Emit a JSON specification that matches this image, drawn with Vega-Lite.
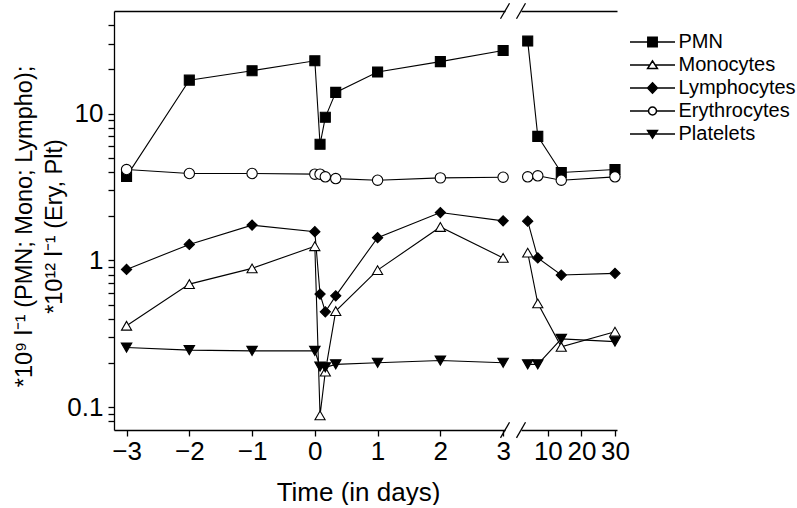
{
  "$schema": "https://vega.github.io/schema/vega-lite/v6.json",
  "background": "white",
  "padding": {"left": 12, "top": 2, "right": 0, "bottom": 0},
  "bounds": "flush",
  "config": {
    "view": {"stroke": null},
    "font": "Liberation Sans",
    "axis": {
      "domainColor": "black", "tickColor": "black", "labelColor": "black", "titleColor": "black",
      "domainWidth": 1.3, "tickWidth": 1.3, "tickSize": 6,
      "labelFontSize": 26, "titleFontSize": 26, "titleFontWeight": "normal",
      "labelFont": "Liberation Sans", "titleFont": "Liberation Sans", "grid": false
    },
    "concat": {"spacing": 16}
  },
  "datasets": {
    "early": [
      {"day": -3, "series": "PMN", "value": 3.74},
      {"day": -2, "series": "PMN", "value": 16.9},
      {"day": -1, "series": "PMN", "value": 19.6},
      {"day": 0, "series": "PMN", "value": 22.9},
      {"day": 0.083, "series": "PMN", "value": 6.18},
      {"day": 0.167, "series": "PMN", "value": 9.44},
      {"day": 0.333, "series": "PMN", "value": 13.95},
      {"day": 1, "series": "PMN", "value": 19.2},
      {"day": 2, "series": "PMN", "value": 22.6},
      {"day": 3, "series": "PMN", "value": 26.9},
      {"day": -3, "series": "Monocytes", "value": 0.359},
      {"day": -2, "series": "Monocytes", "value": 0.69},
      {"day": -1, "series": "Monocytes", "value": 0.883},
      {"day": 0, "series": "Monocytes", "value": 1.25},
      {"day": 0.083, "series": "Monocytes", "value": 0.088},
      {"day": 0.167, "series": "Monocytes", "value": 0.175},
      {"day": 0.333, "series": "Monocytes", "value": 0.452},
      {"day": 1, "series": "Monocytes", "value": 0.859},
      {"day": 2, "series": "Monocytes", "value": 1.69},
      {"day": 3, "series": "Monocytes", "value": 1.04},
      {"day": -3, "series": "Lymphocytes", "value": 0.869},
      {"day": -2, "series": "Lymphocytes", "value": 1.285},
      {"day": -1, "series": "Lymphocytes", "value": 1.74},
      {"day": 0, "series": "Lymphocytes", "value": 1.57},
      {"day": 0.083, "series": "Lymphocytes", "value": 0.59},
      {"day": 0.167, "series": "Lymphocytes", "value": 0.447},
      {"day": 0.333, "series": "Lymphocytes", "value": 0.574},
      {"day": 1, "series": "Lymphocytes", "value": 1.43},
      {"day": 2, "series": "Lymphocytes", "value": 2.12},
      {"day": 3, "series": "Lymphocytes", "value": 1.86},
      {"day": -3, "series": "Erythrocytes", "value": 4.16},
      {"day": -2, "series": "Erythrocytes", "value": 3.91},
      {"day": -1, "series": "Erythrocytes", "value": 3.91},
      {"day": 0, "series": "Erythrocytes", "value": 3.87},
      {"day": 0.083, "series": "Erythrocytes", "value": 3.87},
      {"day": 0.167, "series": "Erythrocytes", "value": 3.71},
      {"day": 0.333, "series": "Erythrocytes", "value": 3.61},
      {"day": 1, "series": "Erythrocytes", "value": 3.52},
      {"day": 2, "series": "Erythrocytes", "value": 3.65},
      {"day": 3, "series": "Erythrocytes", "value": 3.69},
      {"day": -3, "series": "Platelets", "value": 0.255},
      {"day": -2, "series": "Platelets", "value": 0.245},
      {"day": -1, "series": "Platelets", "value": 0.242},
      {"day": 0, "series": "Platelets", "value": 0.242},
      {"day": 0.083, "series": "Platelets", "value": 0.189},
      {"day": 0.167, "series": "Platelets", "value": 0.187},
      {"day": 0.333, "series": "Platelets", "value": 0.196},
      {"day": 1, "series": "Platelets", "value": 0.201},
      {"day": 2, "series": "Platelets", "value": 0.208},
      {"day": 3, "series": "Platelets", "value": 0.201}
    ],
    "late": [
      {"day": 4, "series": "PMN", "value": 31.2},
      {"day": 7, "series": "PMN", "value": 7.0},
      {"day": 14, "series": "PMN", "value": 3.97},
      {"day": 30, "series": "PMN", "value": 4.16},
      {"day": 4, "series": "Monocytes", "value": 1.13},
      {"day": 7, "series": "Monocytes", "value": 0.51},
      {"day": 14, "series": "Monocytes", "value": 0.258},
      {"day": 30, "series": "Monocytes", "value": 0.327},
      {"day": 4, "series": "Lymphocytes", "value": 1.85},
      {"day": 7, "series": "Lymphocytes", "value": 1.04},
      {"day": 14, "series": "Lymphocytes", "value": 0.795},
      {"day": 30, "series": "Lymphocytes", "value": 0.817},
      {"day": 4, "series": "Erythrocytes", "value": 3.71},
      {"day": 7, "series": "Erythrocytes", "value": 3.77},
      {"day": 14, "series": "Erythrocytes", "value": 3.52},
      {"day": 30, "series": "Erythrocytes", "value": 3.71},
      {"day": 4, "series": "Platelets", "value": 0.196},
      {"day": 7, "series": "Platelets", "value": 0.196},
      {"day": 14, "series": "Platelets", "value": 0.292},
      {"day": 30, "series": "Platelets", "value": 0.28}
    ]
  },
  "resolve": {"scale": {"shape": "independent", "fill": "independent", "size": "independent"}},
  "hconcat": [
    {
      "width": 391,
      "height": 419,
      "data": {"name": "early"},
      "resolve": {"axis": {"x": "independent"}},
      "layer": [
        {
          "mark": {"type": "line", "color": "black", "strokeWidth": 1.1, "clip": false},
          "encoding": {
            "x": {"field": "day", "type": "quantitative",
              "scale": {"domain": [-3.2, 3.03], "nice": false, "zero": false},
              "axis": {"orient": "top", "labels": false, "ticks": false, "title": null}},
            "y": {"field": "value", "type": "quantitative",
              "scale": {"type": "log", "domain": [0.07, 50], "nice": false},
              "axis": {
                "orient": "left",
                "values": [0.08, 0.09, 0.1, 0.2, 0.3, 0.4, 0.5, 0.6, 0.7, 0.8, 0.9, 1, 2, 3, 4, 5, 6, 7, 8, 9, 10, 20, 30, 40],
                "labelExpr": "datum.value == 0.1 ? '0.1' : datum.value == 1 ? '1' : datum.value == 10 ? '10' : ''",
                "labelOverlap": false, "labelFlush": false, "labelPadding": 5,
                "title": ["*10⁹ l⁻¹ (PMN; Mono; Lympho);", "*10¹² l⁻¹ (Ery, Plt)"],
                "titleFontSize": 23.5,
                "titleLineHeight": 30, "titlePadding": 0, "titleY": 215
              }},
            "detail": {"field": "series"}
          }
        },
        {
          "mark": {"type": "point", "filled": true, "stroke": "black", "strokeWidth": 1.1, "opacity": 1, "clip": false},
          "encoding": {
            "x": {"field": "day", "type": "quantitative",
              "axis": {"orient": "bottom", "values": [-3, -2, -1, 0, 1, 2, 3], "labelPadding": 2,
                "title": "Time (in days)", "titleX": 244, "titlePadding": 15}},
            "y": {"field": "value", "type": "quantitative"},
            "shape": {"field": "series", "type": "nominal",
              "scale": {"domain": ["PMN", "Monocytes", "Lymphocytes", "Erythrocytes", "Platelets"],
                "range": ["square", "triangle-up", "diamond", "circle", "triangle-down"]}, "legend": null},
            "fill": {"field": "series", "type": "nominal",
              "scale": {"domain": ["PMN", "Monocytes", "Lymphocytes", "Erythrocytes", "Platelets"],
                "range": ["black", "white", "black", "white", "black"]}, "legend": null},
            "size": {"field": "series", "type": "nominal",
              "scale": {"domain": ["PMN", "Monocytes", "Lymphocytes", "Erythrocytes", "Platelets"],
                "range": [100, 110, 130, 100, 115]}, "legend": null}
          }
        },
        {
          "data": {"values": [{}]},
          "mark": {"type": "rule", "color": "black", "strokeWidth": 1.3, "clip": false},
          "encoding": {
            "x": {"datum": 2.958, "type": "quantitative", "axis": null},
            "x2": {"datum": 3.102},
            "y": {"datum": 44.25, "type": "quantitative"},
            "y2": {"datum": 56.5}
          }
        },
        {
          "data": {"values": [{}]},
          "mark": {"type": "rule", "color": "black", "strokeWidth": 1.3, "clip": false},
          "encoding": {
            "x": {"datum": 2.958, "type": "quantitative", "axis": null},
            "x2": {"datum": 3.102},
            "y": {"datum": 0.0619, "type": "quantitative"},
            "y2": {"datum": 0.0791}
          }
        }
      ]
    },
    {
      "width": 96,
      "height": 419,
      "data": {"name": "late"},
      "resolve": {"axis": {"x": "independent"}, "scale": {"shape": "independent", "fill": "independent"}},
      "layer": [
        {
          "mark": {"type": "line", "color": "black", "strokeWidth": 1.1, "clip": false},
          "encoding": {
            "x": {"field": "day", "type": "quantitative",
              "scale": {"domain": [2, 30.6], "nice": false, "zero": false},
              "axis": {"orient": "top", "labels": false, "ticks": false, "title": null}},
            "y": {"field": "value", "type": "quantitative",
              "scale": {"type": "log", "domain": [0.07, 50], "nice": false},
              "axis": {"orient": "right", "labels": false, "ticks": false, "title": null}},
            "detail": {"field": "series"}
          }
        },
        {
          "mark": {"type": "point", "filled": true, "stroke": "black", "strokeWidth": 1.1, "opacity": 1, "clip": false},
          "encoding": {
            "x": {"field": "day", "type": "quantitative",
              "axis": {"orient": "bottom", "values": [10, 20, 30], "labelPadding": 2, "title": null}},
            "y": {"field": "value", "type": "quantitative", "axis": null},
            "shape": {"field": "series", "type": "nominal",
              "scale": {"domain": ["PMN", "Monocytes", "Lymphocytes", "Erythrocytes", "Platelets"],
                "range": ["square", "triangle-up", "diamond", "circle", "triangle-down"]}, "legend": null},
            "fill": {"field": "series", "type": "nominal",
              "scale": {"domain": ["PMN", "Monocytes", "Lymphocytes", "Erythrocytes", "Platelets"],
                "range": ["black", "white", "black", "white", "black"]}, "legend": null},
            "size": {"field": "series", "type": "nominal",
              "scale": {"domain": ["PMN", "Monocytes", "Lymphocytes", "Erythrocytes", "Platelets"],
                "range": [100, 110, 130, 100, 115]}, "legend": null}
          }
        },
        {
          "mark": {"type": "point", "filled": true, "stroke": "black", "opacity": 0, "clip": false},
          "encoding": {
            "x": {"field": "day", "type": "quantitative", "axis": null},
            "y": {"field": "value", "type": "quantitative", "axis": null},
            "shape": {"field": "series", "type": "nominal",
              "scale": {"domain": ["PMN", "Monocytes", "Lymphocytes", "Erythrocytes", "Platelets"],
                "range": [
                  "M-4.8,0H-1M1,0H4.8M-1,-1H1V1H-1Z",
                  "M-4.8,0H-0.57M0.57,0H4.8M0,-0.9L1.05,0.75H-1.05Z",
                  "M-4.8,0H-1.05M1.05,0H4.8M0,-1.1L1.05,0L0,1.1L-1.05,0Z",
                  "M-4.8,0H-0.85M0.85,0H4.8M0.85,0C0.85,0.4695,0.4695,0.85,0,0.85C-0.4695,0.85,-0.85,0.4695,-0.85,0C-0.85,-0.4695,-0.4695,-0.85,0,-0.85C0.4695,-0.85,0.85,-0.4695,0.85,0Z",
                  "M-4.8,0H-0.57M0.57,0H4.8M0,0.9L1.05,-0.75H-1.05Z"
                ]},
              "legend": {"orient": "none", "legendX": 121.5, "legendY": 21, "title": null,
                "labelFontSize": 20, "labelFont": "Liberation Sans", "labelColor": "black",
                "symbolSize": 88, "symbolOpacity": 1,
                "labelOffset": 16, "rowPadding": 3,
                "encode": {"symbols": {"update": {"stroke": {"value": "black"}, "strokeWidth": {"value": 1.1}, "opacity": {"value": 1}}}}}},
            "fill": {"field": "series", "type": "nominal",
              "scale": {"domain": ["PMN", "Monocytes", "Lymphocytes", "Erythrocytes", "Platelets"],
                "range": ["black", "white", "black", "white", "black"]},
              "legend": {"orient": "none", "legendX": 121.5, "legendY": 21, "title": null,
                "labelFontSize": 20, "labelFont": "Liberation Sans", "labelColor": "black",
                "symbolSize": 88, "symbolOpacity": 1,
                "labelOffset": 16, "rowPadding": 3,
                "encode": {"symbols": {"update": {"stroke": {"value": "black"}, "strokeWidth": {"value": 1.1}, "opacity": {"value": 1}}}}}}
          }
        },
        {
          "data": {"values": [{}]},
          "mark": {"type": "rule", "color": "black", "strokeWidth": 1.3, "clip": false},
          "encoding": {
            "x": {"datum": 0.657, "type": "quantitative", "axis": null},
            "x2": {"datum": 3.343},
            "y": {"datum": 44.25, "type": "quantitative", "axis": null},
            "y2": {"datum": 56.5}
          }
        },
        {
          "data": {"values": [{}]},
          "mark": {"type": "rule", "color": "black", "strokeWidth": 1.3, "clip": false},
          "encoding": {
            "x": {"datum": 0.657, "type": "quantitative", "axis": null},
            "x2": {"datum": 3.343},
            "y": {"datum": 0.0619, "type": "quantitative", "axis": null},
            "y2": {"datum": 0.0791}
          }
        }
      ]
    }
  ]
}
